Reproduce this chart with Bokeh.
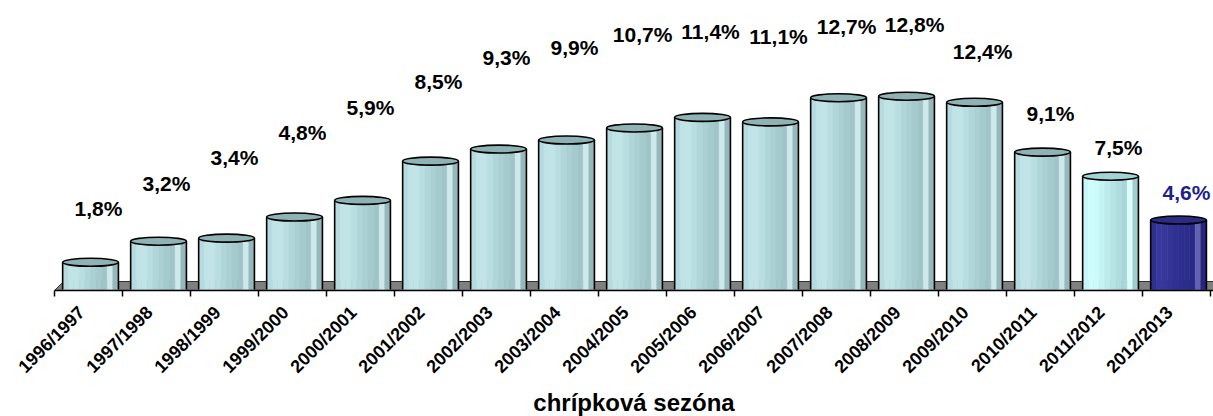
import math
from bokeh.plotting import figure
from bokeh.models import Range1d, FixedTicker
from bokeh.core.properties import value
from bokeh.embed import file_html
from bokeh.resources import INLINE

# ---------------- data ----------------
seasons = ["1996/1997", "1997/1998", "1998/1999", "1999/2000", "2000/2001",
           "2001/2002", "2002/2003", "2003/2004", "2004/2005", "2005/2006",
           "2006/2007", "2007/2008", "2008/2009", "2009/2010", "2010/2011",
           "2011/2012", "2012/2013"]
rates = [1.8, 3.2, 3.4, 4.8, 5.9, 8.5, 9.3, 9.9, 10.7, 11.4, 11.1, 12.7, 12.8,
         12.4, 9.1, 7.5, 4.6]
x_title = "chrípková sezóna"

# ---------------- layout / style ----------------
# label lift above each bar top (pixels), as placed in the original 3D chart
label_lift_px = [54, 58, 81, 85, 93, 80, 92, 93, 93, 86, 85, 71, 72, 51, 39, 29, 28]
families = ["base"] * 15 + ["light", "navy"]
stripe_pal = {
    "base": ["#b6dbde", "#bfe3e6", "#c1e4e7", "#b9dde0", "#b1d6d9", "#abd0d3",
             "#a5cacd", "#a0c4c7", "#cde9eb", "#96b8bb"],
    "light": ["#c6f6f7", "#cffdfd", "#cdfbfb", "#c4f3f4", "#bdebec", "#b6e4e5",
              "#afdcdd", "#a9d5d6", "#dcfcfc", "#a2cdce"],
    "navy": ["#2f2f8e", "#37379c", "#36369b", "#333396", "#303092", "#2e2e8e",
             "#2c2c8a", "#2a2a86", "#6262b4", "#26267e"],
}
cap_col = {"base": "#8fb3b5", "light": "#a3d4d4", "navy": "#2c2c86"}
label_col = {"base": "black", "light": "black", "navy": "#1f1f8f"}

W, H = 1213, 416
LEFT, BOTTOM = 54, 126
FRAME_W, FRAME_H = W - LEFT, H - BOTTOM
PX_X = 68.0          # pixels per category
PX_Y = 15.1          # pixels per percent
n = len(seasons)

y0 = -1.0 / PX_Y
y1 = y0 + FRAME_H / PX_Y

p = figure(frame_width=FRAME_W, frame_height=FRAME_H, output_backend="svg",
           toolbar_location=None,
           x_range=Range1d(0, FRAME_W / PX_X), y_range=Range1d(y0, y1),
           y_axis_type=None, min_border_left=LEFT, min_border_right=0,
           min_border_top=0, min_border_bottom=BOTTOM)
p.outline_line_color = None
p.xgrid.visible = False
p.background_fill_color = "white"
p.border_fill_color = "white"

centers = [i + 0.53 for i in range(n)]
tick_pos = [i + 0.40 for i in range(n)]
bounds = list(range(n + 1))
bar_w = 0.82

# floor (grey slab)
fd = 9.0
floor_top = y0 + fd / PX_Y
x_end = FRAME_W / PX_X + 1
p.patch([0, x_end, x_end, fd / PX_X], [y0, y0, floor_top, floor_top],
        fill_color="#808080", line_color="#303030", line_width=1)

# cylinder bodies (vertical stripes for the shading)
ns = len(stripe_pal["base"])
sw = bar_w / ns
for k in range(ns):
    xs = [c - bar_w / 2 + (k + 0.5) * sw for c in centers]
    cols = [stripe_pal[f][k] for f in families]
    p.vbar(x=xs, width=sw, top=rates, bottom=0, fill_color=cols,
           line_color=cols, line_width=0.6)

# body outlines
p.segment(x0=[c - bar_w / 2 for c in centers], y0=[0] * n,
          x1=[c - bar_w / 2 for c in centers], y1=rates,
          line_color="black", line_width=1.6)
p.segment(x0=[c + bar_w / 2 for c in centers], y0=[0] * n,
          x1=[c + bar_w / 2 for c in centers], y1=rates,
          line_color="black", line_width=1.6)

# cylinder caps
p.ellipse(x=centers, y=rates, width=bar_w, height=8, height_units="screen",
          fill_color=[cap_col[f] for f in families], line_color="black",
          line_width=1.6)

# value labels
lab_x = [c + 8 / PX_X for c in centers]
lab_y = [v + l / PX_Y for v, l in zip(rates, label_lift_px)]
lab_t = [("%.1f" % v).replace(".", ",") + "%" for v in rates]
p.text(x=lab_x, y=lab_y, text=lab_t, text_align="center",
       text_baseline="middle", text_font=value("Liberation Sans"),
       text_font_style="bold", text_font_size="21px",
       text_color=[label_col[f] for f in families])

# x axis
ax = p.xaxis[0]
ax.ticker = FixedTicker(ticks=tick_pos, minor_ticks=bounds)
ax.major_label_overrides = {t: s for t, s in zip(tick_pos, seasons)}
ax.major_label_orientation = math.pi / 4
ax.major_label_text_font = "Liberation Sans"
ax.major_label_text_font_style = "bold"
ax.major_label_text_font_size = "18px"
ax.major_label_text_color = "black"
ax.major_label_standoff = 13
ax.major_tick_line_color = None
ax.major_tick_in = 0
ax.major_tick_out = 0
ax.minor_tick_line_color = "black"
ax.minor_tick_line_width = 1.5
ax.minor_tick_in = 0
ax.minor_tick_out = 6
ax.axis_line_color = "black"
ax.axis_line_width = 1.6
ax.axis_label = x_title
ax.axis_label_text_font = "Liberation Sans"
ax.axis_label_text_font_style = "bold"
ax.axis_label_text_font_size = "24px"
ax.axis_label_text_color = "black"
ax.axis_label_standoff = 2

open("out.html", "w").write(file_html(p, INLINE))
